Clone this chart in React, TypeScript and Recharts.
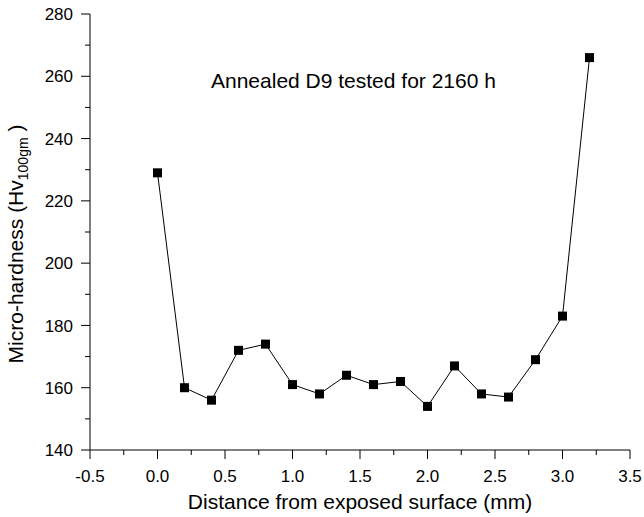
import React from "react";
import { LineChart, Line, XAxis, YAxis } from "recharts";

// distance from exposed surface (mm) and micro-hardness readings
const distances = [0, 0.2, 0.4, 0.6, 0.8, 1.0, 1.2, 1.4, 1.6, 1.8, 2.0, 2.2, 2.4, 2.6, 2.8, 3.0, 3.2];
const hardness = [229, 160, 156, 172, 174, 161, 158, 164, 161, 162, 154, 167, 158, 157, 169, 183, 266];

const xTicks = [-0.5, -0.25, 0, 0.25, 0.5, 0.75, 1, 1.25, 1.5, 1.75, 2, 2.25, 2.5, 2.75, 3, 3.25, 3.5];
const xMajor = [-0.5, 0, 0.5, 1, 1.5, 2, 2.5, 3, 3.5];
const yTicks = [140, 150, 160, 170, 180, 190, 200, 210, 220, 230, 240, 250, 260, 270, 280];
const yMajor = [140, 160, 180, 200, 220, 240, 260, 280];

const FONT = "'Liberation Sans', Arial, Helvetica, sans-serif";

const data = distances.map((d, i) => ({ d, hv: hardness[i] }));

function XTick(props: any) {
  const { x, y, payload } = props;
  const major = xMajor.includes(payload.value);
  return (
    <g>
      <line x1={x} x2={x} y1={y} y2={y + (major ? 9 : 5)} stroke="#000" strokeWidth={1} />
      {major && (
        <text x={x} y={y + 32} textAnchor="middle" fontSize={17} fontFamily={FONT} fill="#000">
          {payload.value.toFixed(1)}
        </text>
      )}
    </g>
  );
}

function YTick(props: any) {
  const { x, y, payload } = props;
  const major = yMajor.includes(payload.value);
  return (
    <g>
      <line x1={x} x2={x - (major ? 9 : 5)} y1={y} y2={y} stroke="#000" strokeWidth={1} />
      {major && (
        <text x={x - 17} y={y} dy="0.36em" textAnchor="end" fontSize={17} fontFamily={FONT} fill="#000">
          {payload.value}
        </text>
      )}
    </g>
  );
}

function SquareDot(props: any) {
  const { cx, cy } = props;
  if (cx == null || cy == null) return null;
  return <rect x={cx - 4.5} y={cy - 4.5} width={9} height={9} fill="#000" />;
}

function XTitle() {
  return (
    <text x={360} y={509} textAnchor="middle" fontSize={21} fontFamily={FONT} fill="#000">
      Distance from exposed surface (mm)
    </text>
  );
}

function YTitle() {
  return (
    <text
      x={23}
      y={244}
      transform="rotate(-90, 23, 244)"
      textAnchor="middle"
      fontSize={21}
      fontFamily={FONT}
      fill="#000"
    >
      Micro-hardness (Hv
      <tspan fontSize={14} dy={5}>100gm</tspan>
      <tspan dy={-5}> )</tspan>
    </text>
  );
}

export default function App() {
  return (
    <div style={{ position: "absolute", left: 0, top: 0, width: 644, height: 517, background: "#fff" }}>
      <LineChart width={644} height={517} data={data} margin={{ top: 14, right: 14, bottom: 17, left: 10 }}>
        <XAxis
          dataKey="d"
          type="number"
          domain={[-0.5, 3.5]}
          ticks={xTicks}
          interval={0}
          tickSize={0}
          tickMargin={0}
          tickLine={false}
          tick={<XTick />}
          height={50}
          axisLine={{ stroke: "#000", strokeWidth: 1 }}
          label={{ content: () => <XTitle /> }}
        />
        <YAxis
          type="number"
          domain={[140, 280]}
          ticks={yTicks}
          interval={0}
          tickSize={0}
          tickMargin={0}
          tickLine={false}
          tick={<YTick />}
          width={80}
          axisLine={{ stroke: "#000", strokeWidth: 1 }}
          label={{ content: () => <YTitle /> }}
        />
        <Line
          dataKey="hv"
          stroke="#000"
          strokeWidth={1}
          dot={<SquareDot />}
          activeDot={false}
          isAnimationActive={false}
        />
        <text x={211} y={88} fontSize={21} fontFamily={FONT} fill="#000">
          Annealed D9 tested for 2160 h
        </text>
      </LineChart>
    </div>
  );
}
